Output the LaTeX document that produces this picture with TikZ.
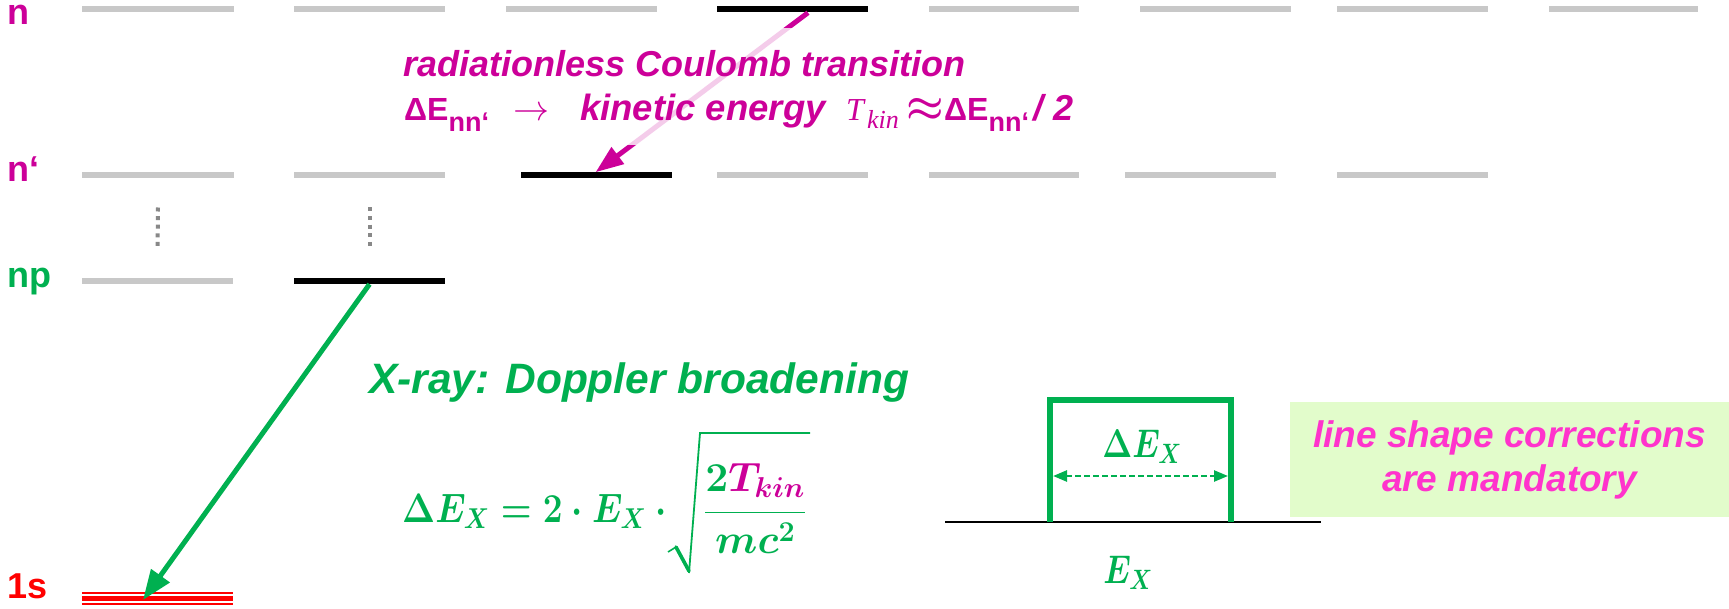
\RequirePackage{fix-cm}
\documentclass[tikz,border=0pt]{standalone}
\usepackage{graphicx}
\usepackage[no-math]{fontspec}
\setmainfont{Liberation Sans}
\newfontfamily\serifit{Liberation Serif}
\usetikzlibrary{arrows.meta}
\definecolor{mag}{HTML}{CC0099}
\definecolor{grn}{HTML}{00B050}
\definecolor{barg}{HTML}{C8C8C8}
\definecolor{pinktx}{HTML}{FF33CC}
\definecolor{notebg}{HTML}{E2FCCB}
\definecolor{dotg}{HTML}{888888}
\definecolor{lvred}{HTML}{FF0000}
\newcommand\dEnn{{\fontsize{32}{36}\selectfont\upshape ΔE}\raisebox{-11pt}{\fontsize{27}{30}\selectfont\upshape nn‘}}
\newsavebox\rawA
\newsavebox\rawB
\newsavebox\rawC
\newsavebox\formbox
\newsavebox\fracbox
\newsavebox\dexbox
\newsavebox\exbox
\newsavebox\apxbox
\begin{document}
\sbox\rawA{\fontsize{41}{48}\selectfont\color{grn}\boldmath$\Delta E_X = 2\cdot E_X\cdot{}$}%
\sbox\formbox{\scalebox{0.86}[1]{\usebox\rawA}}%
\sbox\fracbox{\fontsize{41}{48}\selectfont\color{grn}\boldmath$\displaystyle\frac{2{\color{mag}T_{kin}}}{mc^2}$}%
\sbox\rawB{\fontsize{40}{48}\selectfont\color{grn}\boldmath$\Delta E_X$}%
\sbox\dexbox{\scalebox{0.8}[1]{\usebox\rawB}}%
\sbox\rawC{\fontsize{40}{48}\selectfont\color{grn}\boldmath$E_X$}%
\sbox\exbox{\scalebox{0.8}[1]{\usebox\rawC}}%
\sbox\apxbox{\fontsize{42}{42}\selectfont\color{mag}\boldmath$\approx$}%
\begin{tikzpicture}[x=1pt,y=-1pt,
  bar/.style={inner sep=0pt, minimum height=6pt, fill=barg},
  hbar/.style={inner sep=0pt, minimum height=6pt, fill=black},
  lbl/.style={inner sep=0pt, anchor=base west, font=\fontsize{36}{40}\selectfont\bfseries},
  ctext/.style={inner sep=0pt, anchor=base west, text=mag, font=\fontsize{36}{42}\selectfont\bfseries\itshape},
  dotline/.style={dotg, line width=4pt, dash pattern=on 4pt off 4.6pt},
  ]
\useasboundingbox (0,0) rectangle (1729,609);
% row n
\node[bar, minimum width=152pt] (a1) at (158,9.5) {};
\node[bar, minimum width=151pt] (a2) at (369.5,9.5) {};
\node[bar, minimum width=151pt] (a3) at (581.5,9.5) {};
\node[hbar, minimum width=151pt] (a4) at (792.5,9.5) {};
\node[bar, minimum width=150pt] (a5) at (1004,9.5) {};
\node[bar, minimum width=151pt] (a6) at (1215.5,9.5) {};
\node[bar, minimum width=151pt] (a7) at (1412.5,9.5) {};
\node[bar, minimum width=149pt] (a8) at (1623.5,9.5) {};
% row n'
\node[bar, minimum width=152pt] (b1) at (158,175.5) {};
\node[bar, minimum width=151pt] (b2) at (369.5,175.5) {};
\node[hbar, minimum width=151pt] (b3) at (596.5,175.5) {};
\node[bar, minimum width=151pt] (b4) at (792.5,175.5) {};
\node[bar, minimum width=150pt] (b5) at (1004,175.5) {};
\node[bar, minimum width=151pt] (b6) at (1200.5,175.5) {};
\node[bar, minimum width=151pt] (b7) at (1412.5,175.5) {};
% row np
\node[bar, minimum width=151pt] (c1) at (157.5,281) {};
\node[hbar, minimum width=151pt] (c2) at (369.5,281) {};
% 1s
\node[inner sep=0pt, minimum width=151pt, minimum height=13pt] (s1) at (157.5,598.5) {};
\draw[lvred, line width=1.5pt] ([yshift=-1pt]s1.north west) -- ([yshift=-1pt]s1.north east);
\draw[lvred, line width=4.3pt] (s1.west) -- (s1.east);
\draw[lvred, line width=1.5pt] ([yshift=1pt]s1.south west) -- ([yshift=1pt]s1.south east);
% dotted
\draw[dotline] ([yshift=-32pt]b1.center) -- ([yshift=31pt]c1.center);
\draw[dotline] ([yshift=-32pt]b2.center) -- ([yshift=31pt]c2.center);
% labels
\node[lbl, text=mag] (ln) at (7,25) {n};
\node[lbl, text=mag] (lnq) at (7,182) {n‘};
\node[lbl, text=grn] (lnp) at (7,288) {np};
\node[lbl, text=lvred] (ls) at (7,598) {1s};
% magenta arrow
\draw[mag, line width=5pt, -{Triangle[length=28pt,width=20pt]}] ([xshift=15.5pt]a4.south) -- ([xshift=-1pt]b3.north);
% veil
\node[fill=white, fill opacity=0.8, inner sep=0pt, minimum width=688pt, minimum height=117pt] (veil) at (742,86.5) {};
\node[ctext] (co1) at (403,77) {radiationless Coulomb transition};
\node[ctext] (co2a) at (404,121) {\dEnn};
\node[ctext] (co2b) at (513,121) {\mdseries$\rightarrow$};
\node[ctext, font=\fontsize{36.5}{42}\selectfont\bfseries\itshape] (co2c) at (580,121) {kinetic energy};
\node[ctext] (co2d) at (846,121) {{\serifit\mdseries\itshape\fontsize{32}{36}\selectfont T}\hspace{3pt}\raisebox{-8pt}{\serifit\mdseries\itshape\fontsize{26}{30}\selectfont kin}};
\node[ctext] (co2e) at (906,121) {\usebox\apxbox};
\node[ctext] (co2f) at (944,121) {\dEnn};
\node[ctext] (co2g) at (1033,121) {/ 2};
% green arrow
\draw[grn, line width=5pt, -{Triangle[length=30pt,width=22pt]}] (c2.south) -- ([xshift=-14.5pt,yshift=-1.5pt]s1.center);
% X-ray text
\node[inner sep=0pt, anchor=base west, text=grn, font=\fontsize{42.5}{48}\selectfont\bfseries\itshape] (xr) at (369,393) {X-ray: Doppler broadening};
% formula
\node[inner sep=0pt, anchor=base west] (fm) at (402,522) {\usebox\formbox};
\node[inner sep=0pt, anchor=base west] (fr) at (704,522) {\usebox\fracbox};
\draw[grn, line width=1.6pt, line join=round] (668,552) -- (676,547);
\draw[grn, line width=3.6pt, line cap=round] (676,547) -- (689,571);
\draw[grn, line width=1.8pt, line join=miter] (689,573) -- (700,433) -- (810,433);
% box diagram
\coordinate (bl0) at (945,522);
\coordinate (br0) at (1321,522);
\draw[black, line width=1.8pt] (bl0) -- (br0);
\coordinate (wl) at (1050,522);
\coordinate (wr) at (1231,522);
\draw[grn, line width=6pt] (wl) -- (1050,400) -- (1231,400) -- (wr);
\coordinate (dl) at (1053,476);
\coordinate (dr) at (1228,476);
\draw[grn, line width=2.5pt, dash pattern=on 6pt off 3pt, {Triangle[length=14pt,width=11pt]}-{Triangle[length=14pt,width=11pt]}] (dl) -- (dr);
\node[inner sep=0pt] (dex) at (1142,447) {\usebox\dexbox};
\node[inner sep=0pt] (ex) at (1128,573) {\usebox\exbox};
% note
\node[fill=notebg, minimum width=439pt, minimum height=115pt, inner sep=0pt, align=center, text=pinktx, font=\fontsize{37}{44}\selectfont\bfseries\itshape] (note) at (1509.5,459.5) {line shape corrections\\are mandatory};
\end{tikzpicture}
\end{document}
